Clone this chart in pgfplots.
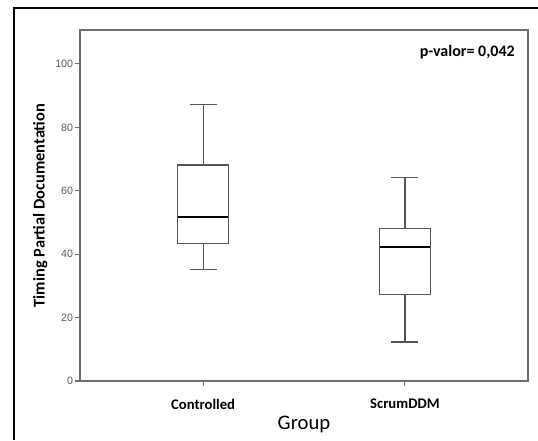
\documentclass[border=0pt]{standalone}
\usepackage{fontspec}
\setmainfont{Carlito}
\newfontfamily\arialf{Liberation Sans}
\usepackage{pgfplots}
\pgfplotsset{compat=1.18}
\definecolor{boxc}{HTML}{555555}
\definecolor{axc}{HTML}{6E6E6E}
\definecolor{tickc}{HTML}{5A5A5A}
\begin{document}
\begin{tikzpicture}
\begin{axis}[
  scale only axis,
  width=336pt, height=263.25pt,
  xmin=-0.61, xmax=1.61,
  ymin=0, ymax=110.7,
  xtick={0,1}, xticklabels={Controlled,ScrumDDM},
  ytick={0,20,40,60,80,100},
  axis line style={axc, line width=0.9pt},
  tick style={axc, line width=0.8pt},
  tick align=outside,
  major tick length=4pt,
  xtick pos=bottom, ytick pos=left,
  /pgf/number format/assume math mode=true,
  yticklabel style={font=\arialf\fontsize{8}{9}\selectfont, text=tickc, inner sep=1pt},
  xticklabel style={font=\bfseries\fontsize{11}{13}\selectfont, yshift=-6pt},
  ylabel={\bfseries Timing Partial Documentation},
  ylabel style={font=\fontsize{12.3}{14}\selectfont, at={(axis description cs:-0.089,0.5)}, anchor=center},
  xlabel={Group},
  xlabel style={font=\fontsize{15.5}{17}\selectfont, yshift=2pt},
  every axis plot/.append style={line join=miter, line cap=rect},
]
% Controlled: lower whisker 35.2, Q1 43.4, median 51.7, Q3 68.1, upper whisker 87.2
\addplot[boxc, line width=0.9pt] coordinates {(-0.125,43.4) (0.125,43.4) (0.125,68.1) (-0.125,68.1) (-0.125,43.4)};
\addplot[boxc, line width=0.9pt] coordinates {(0,68.1) (0,87.2)};
\addplot[boxc, line width=0.9pt] coordinates {(0,43.4) (0,35.2)};
\addplot[boxc, line width=0.9pt] coordinates {(-0.064,87.2) (0.064,87.2)};
\addplot[boxc, line width=0.9pt] coordinates {(-0.064,35.2) (0.064,35.2)};
\addplot[black, line width=1.5pt, line cap=butt] coordinates {(-0.125,51.7) (0.125,51.7)};
% ScrumDDM: lower whisker 12.3, Q1 27.3, median 42.2, Q3 48.2, upper whisker 64.2
\addplot[boxc, line width=0.9pt] coordinates {(0.875,27.3) (1.125,27.3) (1.125,48.2) (0.875,48.2) (0.875,27.3)};
\addplot[boxc, line width=0.9pt] coordinates {(1,48.2) (1,64.2)};
\addplot[boxc, line width=0.9pt] coordinates {(1,27.3) (1,12.3)};
\addplot[boxc, line width=0.9pt] coordinates {(0.936,64.2) (1.064,64.2)};
\addplot[boxc, line width=0.9pt] coordinates {(0.936,12.3) (1.064,12.3)};
\addplot[black, line width=1.5pt, line cap=butt] coordinates {(0.875,42.2) (1.125,42.2)};
\node[anchor=east, inner sep=0pt, font=\bfseries\fontsize{12}{14}\selectfont] at (rel axis cs:0.971,0.937) {p-valor= 0,042};
\end{axis}
\draw[black, line width=1.1pt] (-49.5pt,-44.25pt) -- (-49.5pt,279.75pt) -- (343.5pt,279.75pt);
\pgfresetboundingbox
\path[use as bounding box] (-60pt,-44.25pt) rectangle (343.5pt,285.75pt);
\end{tikzpicture}
\end{document}
